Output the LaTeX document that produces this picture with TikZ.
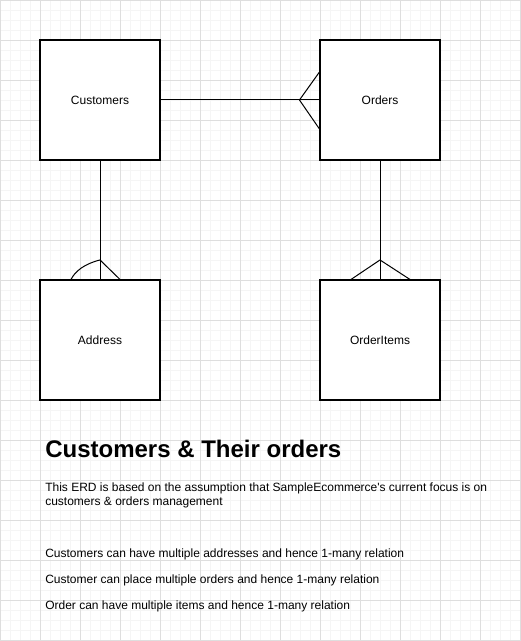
\documentclass[tikz,border=0pt]{standalone}
\usepackage{fontspec}
\setmainfont{Liberation Sans}
\usetikzlibrary{calc}
\begin{document}
\begin{tikzpicture}[x=0.75pt,y=-0.75pt,
  entity/.style={draw=black,line width=0.8pt,fill=white,minimum width=90pt,minimum height=90pt,inner sep=0pt,font=\fontsize{9}{11}\selectfont},
  conn/.style={line width=0.75pt,black},
  txt/.style={anchor=base west,inner sep=0pt,font=\fontsize{9}{10.5}\selectfont},
  minorgrid/.style={draw={rgb,255:red,245;green,245;blue,245},line width=0.6pt},
  majorgrid/.style={draw={rgb,255:red,222;green,222;blue,222},line width=0.6pt}]
\useasboundingbox (0,0) rectangle (520,641);
\fill[white] (0,0) rectangle (520,641);
% grid
\foreach \i in {0,10,...,520} {\draw[minorgrid] (\i,0) -- (\i,641);}
\foreach \j in {0,10,...,640} {\draw[minorgrid] (0,\j) -- (520,\j);}
\foreach \i in {0,40,...,520} {\draw[majorgrid] (\i,0) -- (\i,641);}
\foreach \j in {0,40,...,640} {\draw[majorgrid] (0,\j) -- (520,\j);}
% entities
\node[entity] (cust) at (100,100) {Customers};
\node[entity] (ord) at (380,100) {Orders};
\node[entity] (addr) at (100,340) {Address};
\node[entity] (items) at (380,340) {OrderItems};
% connectors
\coordinate (f1) at ($(ord.west)+(-20,0)$);
\draw[conn] (cust.east) -- (ord.west);
\draw[conn] (f1) -- ($(ord.west)+(0,-28)$);
\draw[conn] (f1) -- ($(ord.west)+(0,29)$);
\coordinate (f2) at ($(addr.north)+(0,-19.5)$);
\draw[conn] (cust.south) -- (addr.north);
\coordinate (a2) at ($(addr.north)+(-29,0)$);
\draw[conn] (f2) .. controls ($(f2)+(-16,4)$) and ($(a2)+(4,-8)$) .. (a2);
\draw[conn] (f2) -- ($(addr.north)+(20,0)$);
\coordinate (f3) at ($(items.north)+(0,-19.5)$);
\draw[conn] (ord.south) -- (items.north);
\draw[conn] (f3) -- ($(items.north)+(-29,0)$);
\draw[conn] (f3) -- ($(items.north)+(30,0)$);
% texts
\node[txt,font=\bfseries\fontsize{18}{21}\selectfont] (title) at (45,457.5) {Customers \& Their orders};
\node[txt] (p1) at (45,491.5) {This ERD is based on the assumption that SampleEcommerce\textquotesingle s current focus is on};
\node[txt] (p2) at (45,505.5) {customers \& orders management};
\node[txt] (l1) at (45,557.5) {Customers can have multiple addresses and hence 1-many relation};
\node[txt] (l2) at (45,583.5) {Customer can place multiple orders and hence 1-many relation};
\node[txt] (l3) at (45,609.5) {Order can have multiple items and hence 1-many relation};
\end{tikzpicture}
\end{document}
